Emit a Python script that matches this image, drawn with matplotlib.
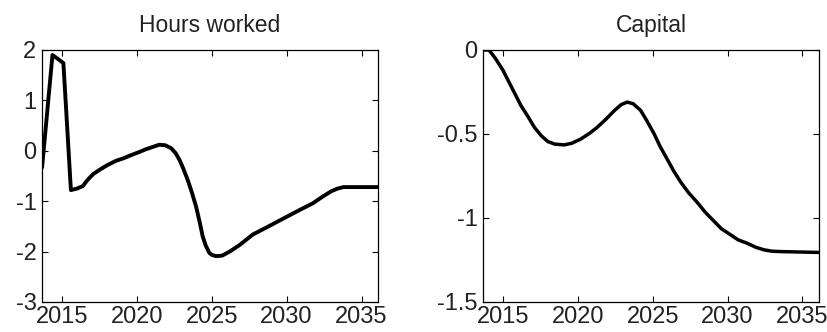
import matplotlib
matplotlib.use("Agg")
import matplotlib.pyplot as plt

plt.rcParams['font.family'] = ['Liberation Sans', 'DejaVu Sans']
plt.rcParams['axes.unicode_minus'] = False

# Hours worked (deviation, %)
hours_years = [2013.67, 2014.37, 2014.7, 2015.1, 2015.6, 2016.0, 2016.4, 2016.6,
               2016.8, 2017.1, 2017.5, 2018.0, 2018.6, 2019.1, 2019.5, 2020.2,
               2020.6, 2021.0, 2021.5, 2021.9, 2022.3, 2022.6, 2022.85, 2023.1,
               2023.4, 2023.7, 2023.96, 2024.2, 2024.4, 2024.6, 2024.85, 2025.05,
               2025.3, 2025.7, 2026.2, 2026.86, 2027.75, 2028.6, 2030.0, 2030.9,
               2031.76, 2032.4, 2033.0, 2033.4, 2033.8, 2036.1]
hours_values = [-0.35, 1.90, 1.83, 1.74, -0.78, -0.75, -0.70, -0.62,
                -0.55, -0.46, -0.38, -0.29, -0.20, -0.15, -0.10, -0.02,
                0.03, 0.07, 0.12, 0.11, 0.05, -0.05, -0.18, -0.35,
                -0.58, -0.85, -1.11, -1.42, -1.70, -1.88, -2.03, -2.07,
                -2.09, -2.08, -2.00, -1.87, -1.66, -1.53, -1.31, -1.17,
                -1.04, -0.91, -0.80, -0.75, -0.72, -0.72]

# Capital (deviation, %)
capital_years = [2013.67, 2014.07, 2014.5, 2015.0, 2015.4, 2015.8, 2016.2, 2016.7,
                 2017.1, 2017.56, 2018.0, 2018.45, 2019.1, 2019.6, 2020.2, 2020.8,
                 2021.3, 2021.9, 2022.45, 2022.9, 2023.3, 2023.7, 2024.2, 2024.6,
                 2025.1, 2025.5, 2026.0, 2026.4, 2026.9, 2027.4, 2028.0, 2028.5,
                 2029.1, 2029.6, 2030.2, 2030.7, 2031.3, 2031.9, 2032.45, 2033.0,
                 2033.56, 2036.1]
capital_values = [0.0, 0.0, -0.05, -0.12, -0.19, -0.26, -0.33, -0.40,
                  -0.46, -0.51, -0.545, -0.56, -0.565, -0.555, -0.53, -0.495,
                  -0.46, -0.41, -0.36, -0.325, -0.31, -0.32, -0.36, -0.42,
                  -0.50, -0.575, -0.655, -0.72, -0.79, -0.85, -0.91, -0.965,
                  -1.02, -1.065, -1.10, -1.13, -1.15, -1.175, -1.19, -1.198,
                  -1.20, -1.205]

x_ticks = [2015, 2020, 2025, 2030, 2035]
x_range = (2013.67, 2036.1)

fig = plt.figure(figsize=(8.28, 3.32), dpi=100)
ax1 = fig.add_axes([0.0507, 0.0904, 0.4058, 0.759])
ax2 = fig.add_axes([0.5833, 0.0904, 0.4058, 0.759])

panels = [
    (ax1, hours_years, hours_values, "Hours worked", (-3, 2), [-3, -2, -1, 0, 1, 2],
     ["-3", "-2", "-1", "0", "1", "2"], 2.8),
    (ax2, capital_years, capital_values, "Capital", (-1.5, 0), [-1.5, -1, -0.5, 0],
     ["-1.5", "-1", "-0.5", "0"], 2.5),
]

for ax, xs, ys, title, ylim, yt, ytl, lw in panels:
    ax.plot(xs, ys, color="black", linewidth=lw, solid_joinstyle="round",
            solid_capstyle="butt")
    ax.set_xlim(*x_range)
    ax.set_ylim(*ylim)
    ax.set_xticks(x_ticks)
    ax.set_xticklabels([str(t) for t in x_ticks])
    ax.set_yticks(yt)
    ax.set_yticklabels(ytl)
    ax.tick_params(direction="in", length=4, width=0.8, top=True, right=True,
                   labelsize=17, colors="black", labelcolor="#222222")
    ax.tick_params(axis="x", pad=3)
    ax.tick_params(axis="y", pad=4)
    for s in ax.spines.values():
        s.set_linewidth(0.9)
    ax.set_title(title, fontsize=16.5, pad=13, color="#222222")

fig.savefig("out.png", dpi=100)
